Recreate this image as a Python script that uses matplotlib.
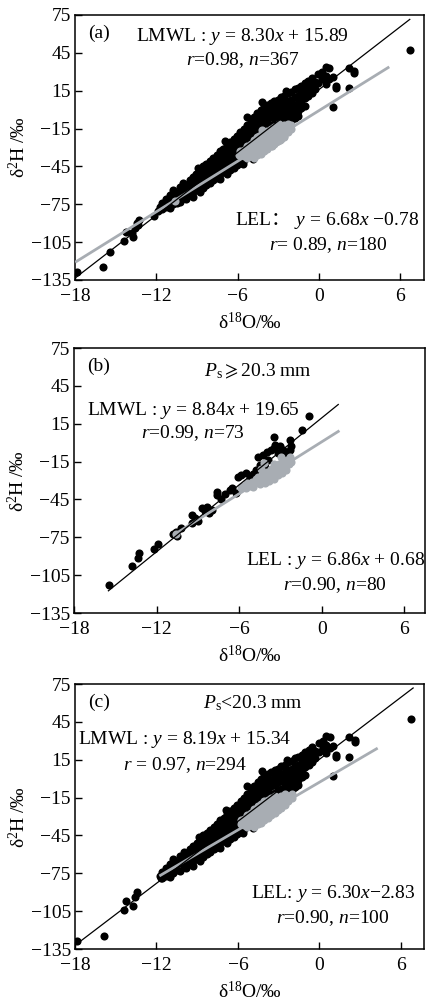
import numpy as np
import matplotlib.pyplot as plt

plt.rcParams['font.family'] = ['Liberation Serif', 'Noto Sans CJK SC', 'DejaVu Serif']
plt.rcParams['mathtext.fontset'] = 'custom'
plt.rcParams['mathtext.rm'] = 'Liberation Serif'
plt.rcParams['mathtext.it'] = 'Liberation Serif:italic'
plt.rcParams['mathtext.fallback'] = 'stix'

# --------------------
# Ps >= 20.3 mm : precipitation (black) and evaporated samples (grey)
# --------------------
b_prec_x = [-15.45, -13.8, -13.35, -13.3, -12.2, -11.9, -10.8, -10.6, -10.2, -10.5,
            -9.45, -9.4, -9.2, -9.0, -8.7, -8.5, -8.35, -8.0, -8.2,
            -7.6, -7.6, -7.3, -7.0, -6.65, -6.5, -6.2, -6.05, -5.9,
            -5.5, -5.2, -5.0, -4.8, -4.6, -4.5, -4.3, -4.0, -3.9, -4.1,
            -3.7, -3.5, -3.5, -3.4, -3.2, -3.0, -2.8, -2.5, -2.3, -2.3, -2.2,
            -1.44, -0.96]
b_prec_y = [-113, -98, -91.5, -87.5, -84, -80, -72.5, -71, -68, -74,
            -57, -64, -60, -62, -52, -54, -51, -53, -56,
            -41.5, -39, -45, -41, -37.5, -36, -40, -27, -26,
            -24, -28, -25, -22, -11, -18, -10, -7, -14, -19,
            -6, 4.7, -4, -2, -8, -3, -6, -9, 2, -6, -3,
            10, 21]
b_evap_x = [-10.6, -5.9, -5.7, -5.5, -5.4, -5.2, -5.1, -5.0, -4.9, -4.8,
            -4.7, -4.6, -4.5, -4.4, -4.3, -4.2, -4.2, -4.1, -4.0, -3.9,
            -3.8, -3.7, -3.6, -3.5, -3.5, -3.4, -3.3, -3.2, -3.1, -3.0,
            -2.95, -2.9, -2.8, -2.7, -2.6, -2.5, -2.4, -2.3, -2.2, -4.4, -3.7]
b_evap_y = [-72.5, -36, -34, -36, -32, -34, -31, -35, -33, -29,
            -31, -27, -33, -30, -25, -16, -28, -32, -23, -27,
            -30, -21, -25, -29, -17, -19, -23, -26, -17, -21,
            -11, -24, -15, -19, -22, -14, -17, -11, -15, -21, -26]

# --------------------
# Ps < 20.3 mm
# --------------------
c_prec_x = [-17.83, -15.9, -14.4, -14.25, -13.7, -13.6, -13.4, -11.74, -11.7,
            -11.6, -11.6, -11.3, -11.3, -11.0, -11.0, -11.0, -10.75, -10.75, -10.75,
            -10.5, -10.5, -10.25, -10.25, -10.25, -10.0, -10.0, -10.0,
            -9.8, -9.8, -9.8, -9.55, -9.55, -9.55, -9.3, -9.3, -9.3, -9.3,
            -9.05, -9.05, -9.05, -8.8, -8.8, -8.8, -8.8, -8.55, -8.55, -8.55, -8.55,
            -8.3, -8.3, -8.3, -8.3, -8.05, -8.05, -8.05, -8.05,
            -7.8, -7.8, -7.8, -7.8, -7.55, -7.55, -7.55, -7.55,
            -7.3, -7.3, -7.3, -7.3, -7.3, -7.05, -7.05, -7.05, -7.05,
            -6.8, -6.8, -6.8, -6.8, -6.8, -6.55, -6.55, -6.55, -6.55, -6.55,
            -6.3, -6.3, -6.3, -6.3, -6.3, -6.05, -6.05, -6.05, -6.05, -6.05,
            -5.8, -5.8, -5.8, -5.8, -5.8, -5.55, -5.55, -5.55, -5.55, -5.55,
            -5.3, -5.3, -5.3, -5.3, -5.3, -5.05, -5.05, -5.05, -5.05, -5.05,
            -4.8, -4.8, -4.8, -4.8, -4.8, -4.55, -4.55, -4.55, -4.55, -4.55,
            -4.3, -4.3, -4.3, -4.3, -4.3, -4.05, -4.05, -4.05, -4.05, -4.05,
            -3.8, -3.8, -3.8, -3.8, -3.8, -3.55, -3.55, -3.55, -3.55, -3.55,
            -3.3, -3.3, -3.3, -3.3, -3.3, -3.05, -3.05, -3.05, -3.05, -3.05,
            -2.8, -2.8, -2.8, -2.8, -2.8, -2.55, -2.55, -2.55, -2.55, -2.55,
            -2.3, -2.3, -2.3, -2.3, -2.3, -2.05, -2.05, -2.05, -2.05, -2.05,
            -1.8, -1.8, -1.8, -1.8, -1.8, -1.55, -1.55, -1.55, -1.55, -1.55,
            -1.3, -1.3, -1.3, -1.3, -1.05, -1.05, -1.05, -1.05,
            -0.8, -0.8, -0.8, -0.55, -0.55, -0.55, -0.3, -0.3, -0.05, -0.05,
            0.25, 0.25, 0.5, 0.5, 0.5, 0.75, 0.75, 1.0, 1.0, 1.25, 1.25,
            2.2, 2.2, 2.6, 2.6, 6.75,
            -5.6, -4.9, -5.3, -4.2, -2.4, -6.9, -8.9]
c_prec_y = [-129, -125, -104, -97, -101, -93.5, -89.5, -77, -79,
            -74, -79, -71, -77, -68, -74, -78, -64, -70, -75,
            -66, -72, -61, -67, -73, -58, -63, -70,
            -60, -66, -71, -56, -62, -68, -53, -59, -65, -69,
            -51, -57, -63, -48, -54, -60, -65, -45, -51, -57, -62,
            -43, -49, -55, -60, -41, -46, -52, -58,
            -38, -44, -50, -56, -36, -42, -48, -54,
            -33, -39, -45, -51, -55, -31, -37, -43, -49,
            -28, -34, -40, -46, -51, -26, -31, -37, -43, -48,
            -23, -29, -35, -41, -46, -21, -27, -33, -38, -44,
            -18, -24, -30, -36, -42, -15, -21, -27, -33, -40,
            -12, -18, -24, -30, -37, -9, -15, -21, -27, -34,
            -6, -12, -18, -24, -31, -3, -9, -15, -21, -28,
            0, -6, -12, -18, -26, 2, -4, -10, -16, -23,
            4, -2, -8, -14, -21, 5, -1, -6, -12, -19,
            7, 1, -5, -11, -17, 8, 2, -3, -9, -15,
            10, 4, -2, -8, -14, 11, 5, 0, -6, -12,
            13, 7, 1, -5, -10, 14, 8, 3, -3, -9,
            16, 10, 4, -2, -7, 17, 11, 5, -1, -5,
            19, 13, 7, 1, 21, 15, 9, 3,
            23, 17, 11, 25, 19, 13, 22, 16, 28, 21,
            24, 30, 34, 27, 20, 33, 24, 2, 26, 19, 17,
            33, 17, 29, 31, 47.5,
            -43, -39, -6, 6, 15, -25, -46]
c_evap_x = [-5.8, -5.8, -5.55, -5.55, -5.3, -5.3, -5.3, -5.05, -5.05, -5.05,
            -4.8, -4.8, -4.8, -4.8, -4.55, -4.55, -4.55, -4.55,
            -4.3, -4.3, -4.3, -4.3, -4.05, -4.05, -4.05, -4.05,
            -3.8, -3.8, -3.8, -3.8, -3.55, -3.55, -3.55, -3.55,
            -3.3, -3.3, -3.3, -3.3, -3.05, -3.05, -3.05,
            -2.8, -2.8, -2.8, -2.55, -2.55, -2.55, -2.3, -2.3, -2.05, -2.05]
c_evap_y = [-36, -33, -37, -32, -38, -33, -29, -37, -32, -27,
            -38, -33, -28, -24, -36, -31, -26, -22,
            -35, -30, -25, -20, -33, -28, -23, -18,
            -31, -26, -21, -17, -29, -24, -19, -15,
            -27, -22, -17, -14, -25, -20, -15,
            -23, -18, -14, -21, -16, -12, -18, -14, -15, -12]

# Regression lines : slope, intercept, x range
lmwl = {'a': (8.30, 15.89, (-18.0, 6.7)), 'b': (8.84, 19.65, (-15.5, 1.2)), 'c': (8.19, 15.34, (-18.0, 6.9))}
lel = {'a': (6.68, -0.78, (-17.9, 5.1)), 'b': (6.86, 0.68, (-10.7, 1.2)), 'c': (6.30, -2.83, (-11.7, 4.2))}

# Whole period = union of both rainfall classes
a_prec_x = b_prec_x + c_prec_x
a_prec_y = b_prec_y + c_prec_y
a_evap_x = b_evap_x + c_evap_x
a_evap_y = b_evap_y + c_evap_y

x_ticks = [-18, -12, -6, 0, 6]
y_ticks = [-135, -105, -75, -45, -15, 15, 45, 75]

grey = '#a8adb3'
fs = 14

fig = plt.figure(figsize=(4.26, 10.05), dpi=100)
ax_a = fig.add_axes([0.1761, 0.7214, 0.8192, 0.2637])
ax_b = fig.add_axes([0.1737, 0.3900, 0.8239, 0.2637])
ax_c = fig.add_axes([0.1761, 0.0557, 0.8192, 0.2637])

panels = [
    (ax_a, 'a', a_prec_x, a_prec_y, a_evap_x, a_evap_y, 7.75),
    (ax_b, 'b', b_prec_x, b_prec_y, b_evap_x, b_evap_y, 7.5),
    (ax_c, 'c', c_prec_x, c_prec_y, c_evap_x, c_evap_y, 7.7),
]

for ax, key, px, py, ex, ey, xmax in panels:
    ax.scatter(px, py, s=34, color='black', linewidths=0, zorder=2)
    ax.scatter(ex, ey, s=34, color=grey, linewidths=0, zorder=3)
    k, b0, (x0, x1) = lel[key]
    xs = np.array([x0, x1])
    ax.plot(xs, k * xs + b0, color=grey, lw=2.0, zorder=4)
    k, b0, (x0, x1) = lmwl[key]
    xs = np.array([x0, x1])
    ax.plot(xs, k * xs + b0, color='black', lw=0.9, zorder=5)

    ax.set_xlim(-18, xmax)
    ax.set_ylim(-135, 75)
    ax.set_xticks(x_ticks)
    ax.set_yticks(y_ticks)
    ax.tick_params(direction='in', length=5, width=1, labelsize=fs)
    ax.tick_params(axis='x', pad=6)
    ax.tick_params(axis='y', pad=3)
    for s in ax.spines.values():
        s.set_linewidth(1.1)
    ax.set_xlabel('δ$^{18}$O/‰', fontsize=fs, labelpad=5)
    ax.set_ylabel('δ$^{2}$H /‰', fontsize=fs, labelpad=1)
    ax.text(0.07, 0.93, '(%s)' % key, transform=ax.transAxes, fontsize=fs, ha='center', va='center')

kw = dict(fontsize=fs, va='center')

# (a) all events
ax_a.text(0.48, 0.918, r'LMWL : $y$ = 8.30$x$ + 15.89', transform=ax_a.transAxes, ha='center', **kw)
ax_a.text(0.48, 0.83, r'$r$=0.98, $n$=367', transform=ax_a.transAxes, ha='center', **kw)
ax_a.text(0.62, 0.226, 'LEL：', transform=ax_a.transAxes, ha='right', **kw)
ax_a.text(0.62, 0.226, r' $y$ = 6.68$x$ −0.78', transform=ax_a.transAxes, ha='left', **kw)
ax_a.text(0.725, 0.132, r'$r$= 0.89, $n$=180', transform=ax_a.transAxes, ha='center', **kw)

# (b) heavy rain
ax_b.text(0.524, 0.911, r'$P_\mathrm{s}\geqslant$20.3 mm', transform=ax_b.transAxes, ha='center', **kw)
ax_b.text(0.339, 0.766, r'LMWL : $y$ = 8.84$x$ + 19.65', transform=ax_b.transAxes, ha='center', **kw)
ax_b.text(0.339, 0.678, r'$r$=0.99, $n$=73', transform=ax_b.transAxes, ha='center', **kw)
ax_b.text(0.745, 0.20, r'LEL : $y$ = 6.86$x$ + 0.68', transform=ax_b.transAxes, ha='center', **kw)
ax_b.text(0.745, 0.106, r'$r$=0.90, $n$=80', transform=ax_b.transAxes, ha='center', **kw)

# (c) light rain
ax_c.text(0.51, 0.928, r'$P_\mathrm{s}$<20.3 mm', transform=ax_c.transAxes, ha='center', **kw)
ax_c.text(0.315, 0.79, r'LMWL : $y$ = 8.19$x$ + 15.34', transform=ax_c.transAxes, ha='center', **kw)
ax_c.text(0.315, 0.694, r'$r$ = 0.97, $n$=294', transform=ax_c.transAxes, ha='center', **kw)
ax_c.text(0.74, 0.211, r'LEL: $y$ = 6.30$x$−2.83', transform=ax_c.transAxes, ha='center', **kw)
ax_c.text(0.74, 0.117, r'$r$=0.90, $n$=100', transform=ax_c.transAxes, ha='center', **kw)

fig.savefig('out.png', dpi=100)
